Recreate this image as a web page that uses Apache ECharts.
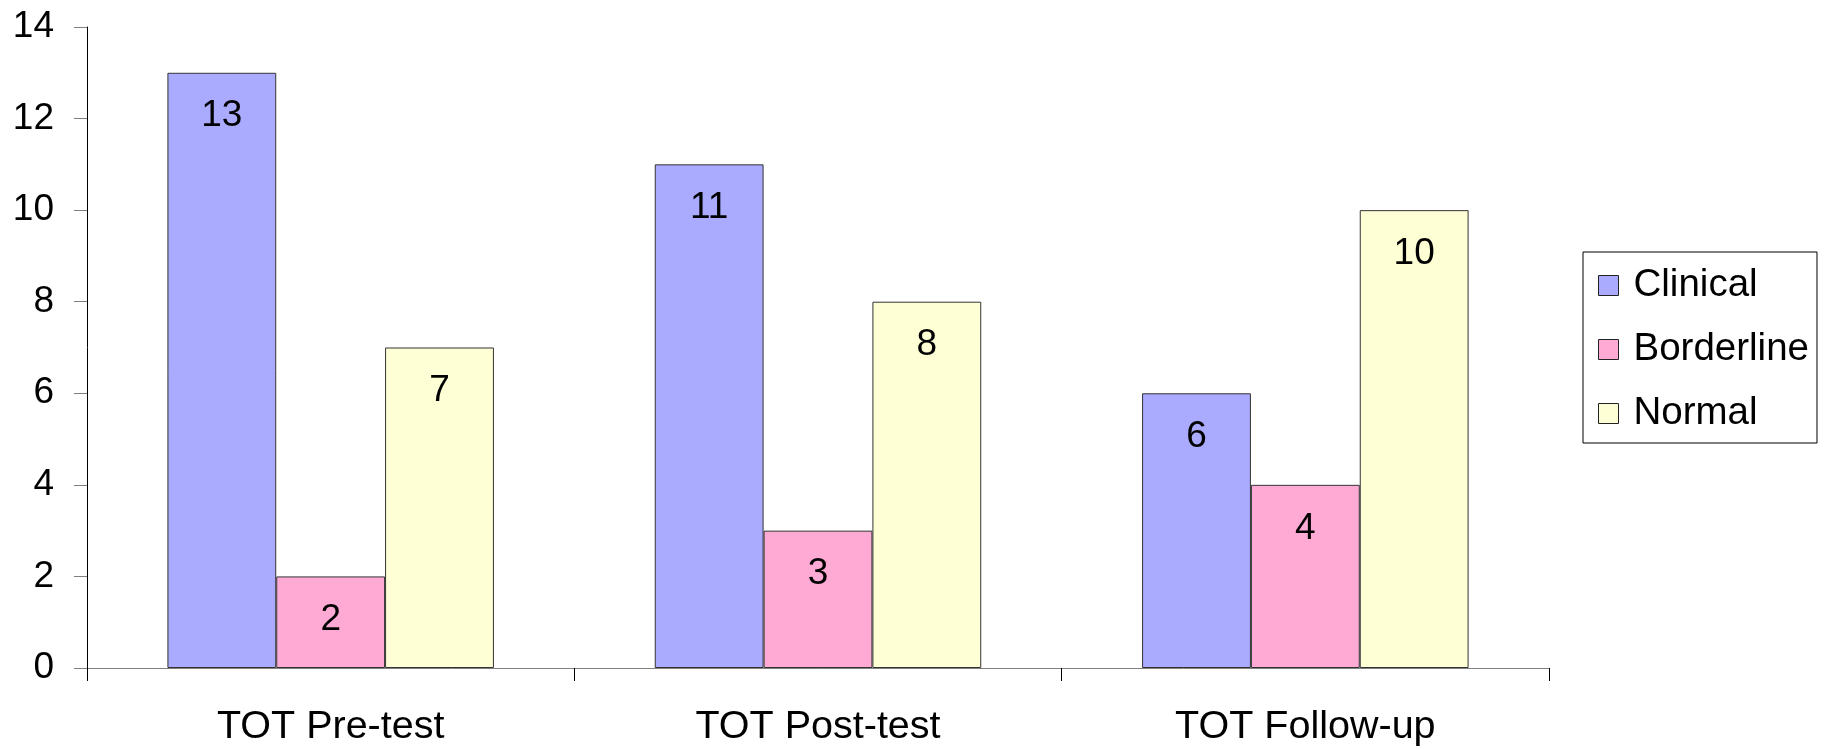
<!DOCTYPE html>
<html>
<head>
<meta charset="utf-8">
<script src="https://cdn.jsdelivr.net/npm/echarts@6/dist/echarts.min.js"></script>
<style>
  html, body { margin: 0; padding: 0; background: #fff; }
  #chart { width: 1826px; height: 749px; }
</style>
</head>
<body>
<div id="chart"></div>
<script>
// Score groups on the x axis
const categories = ['TOT Pre-test', 'TOT Post-test', 'TOT Follow-up'];

// Counts per classification
const clinical = [13, 11, 6];
const borderline = [2, 3, 4];
const normal = [7, 8, 10];

// Value axis ticks
const yMin = 0;
const yMax = 14;
const yStep = 2;

const FONT = '"Liberation Sans", Arial, sans-serif';

function barSeries(name, data, color) {
  return {
    name: name,
    type: 'bar',
    data: data,
    barGap: '0%',
    barCategoryGap: '33%',
    itemStyle: { color: color, borderColor: '#333', borderWidth: 1 },
    label: {
      show: true,
      position: 'insideTop',
      distance: 25,
      color: '#000',
      fontFamily: FONT,
      fontSize: 37
    }
  };
}

const chart = echarts.init(document.getElementById('chart'));
chart.setOption({
  animation: false,
  backgroundColor: '#fff',
  grid: { left: 87, right: 277, top: 27, bottom: 81, containLabel: false },
  legend: {
    orient: 'vertical',
    left: 1583,
    top: 252,
    padding: [14, 8, 10, 15],
    itemGap: 25,
    itemWidth: 20,
    itemHeight: 20,
    icon: 'rect',
    borderColor: '#000',
    borderWidth: 1,
    backgroundColor: '#fff',
    itemStyle: { borderColor: '#222', borderWidth: 1 },
    textStyle: { color: '#000', fontFamily: FONT, fontSize: 38.5, padding: [0, 0, 0, 10] },
    data: ['Clinical', 'Borderline', 'Normal']
  },
  xAxis: {
    type: 'category',
    data: categories,
    axisLine: { show: true, lineStyle: { color: '#808080', width: 1 } },
    axisTick: { show: true, length: 13, lineStyle: { color: '#000' } },
    axisLabel: { color: '#000', fontFamily: FONT, fontSize: 39.5, margin: 39 },
    splitLine: { show: false }
  },
  yAxis: {
    type: 'value',
    min: yMin,
    max: yMax,
    interval: yStep,
    axisLine: { show: true, lineStyle: { color: '#000', width: 1 } },
    axisTick: { show: true, length: 13, lineStyle: { color: '#808080' } },
    axisLabel: { color: '#000', fontFamily: FONT, fontSize: 37, margin: 33 },
    splitLine: { show: false }
  },
  series: [
    barSeries('Clinical', clinical, '#AAAAFF'),
    barSeries('Borderline', borderline, '#FFAAD5'),
    barSeries('Normal', normal, '#FFFFD5')
  ]
});
</script>
</body>
</html>
